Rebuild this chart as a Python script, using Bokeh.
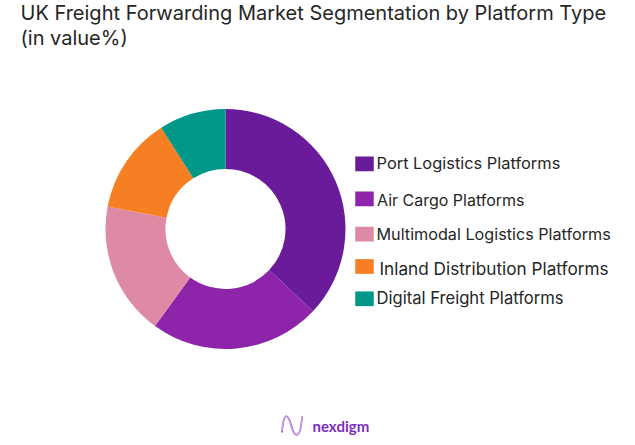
from math import pi
from bokeh.plotting import figure
from bokeh.models import Range1d, ColumnDataSource
from bokeh.core.properties import value
from bokeh.embed import file_html
from bokeh.resources import INLINE

title_lines = ["UK Freight Forwarding Market Segmentation by Platform Type", "(in value%)"]
categories = ["Port Logistics Platforms", "Air Cargo Platforms", "Multimodal Logistics Platforms",
              "Inland Distribution Platforms", "Digital Freight Platforms"]
shares = [37, 23, 18, 13, 9]
colors = ["#6A1B9A", "#8E24AA", "#DE8AA5", "#F57F22", "#009688"]

H = 445
FONT = "Inter"
p = figure(width=627, height=437, output_backend="svg", toolbar_location=None,
           x_range=Range1d(0, 627), y_range=Range1d(8, 445), min_border=0)
p.axis.visible = False
p.grid.visible = False
p.outline_line_color = None
p.background_fill_color = "white"

# donut
total = sum(shares)
cum = 0
starts, ends = [], []
for s in shares:
    starts.append(pi / 2 - 2 * pi * cum / total)
    cum += s
    ends.append(pi / 2 - 2 * pi * cum / total)
src = ColumnDataSource(dict(start=starts, end=ends, color=colors, cat=categories))
p.annular_wedge(x=225, y=H - 228.5, inner_radius=60, outer_radius=120, start_angle="start", end_angle="end",
                direction="clock", fill_color="color", line_color=None, source=src)

# legend
sy = [163.3, 198.3, 233.7, 266, 298.3]
ly = [162.5, 199, 233.7, 267.7, 297.7]
tx = [376, 376.5, 376, 379, 376]
sizes = ["16.4px", "16px", "16.2px", "17.2px", "16.6px"]
p.rect(x=[364] * 5, y=[H - v for v in sy], width=18.5, height=14.7, fill_color=colors, line_color=None)
p.text(x="x", y="y", text="t", text_font=value(FONT), text_font_size="s",
       text_color="#262626", text_baseline="middle", text_align="left",
       source=ColumnDataSource(dict(x=tx, y=[H - v for v in ly], t=categories, s=sizes)))

# title
p.text(x=[20, 20], y=[H - 12, H - 37], text=title_lines, text_font=value(FONT), text_font_size="20px",
       text_color="#262626", text_baseline="middle", text_align="left")

# logo
for dy, c in [(0, "#7B2CBF"), (1.5, "#C9A3E6")]:
    p.bezier(x0=[281.5], y0=[H - 432 + dy], x1=[290.5], y1=[H - 424 - dy],
             cx0=[283], cy0=[H - 412], cx1=[287], cy1=[H - 412], line_color=c, line_width=1.5)
    p.bezier(x0=[290.5], y0=[H - 424 - dy], x1=[301.5], y1=[H - 416], cx0=[294], cy0=[H - 438], cx1=[300], cy1=[H - 440],
             line_color=c, line_width=1.5)
p.text(x=[312], y=[H - 425], text=["nexdigm"], text_font=value("Lato"), text_font_style="bold",
       text_font_size="15px", text_color="#7B2CBF", text_baseline="middle", text_align="left")

open("out.html", "w").write(file_html(p, INLINE))
